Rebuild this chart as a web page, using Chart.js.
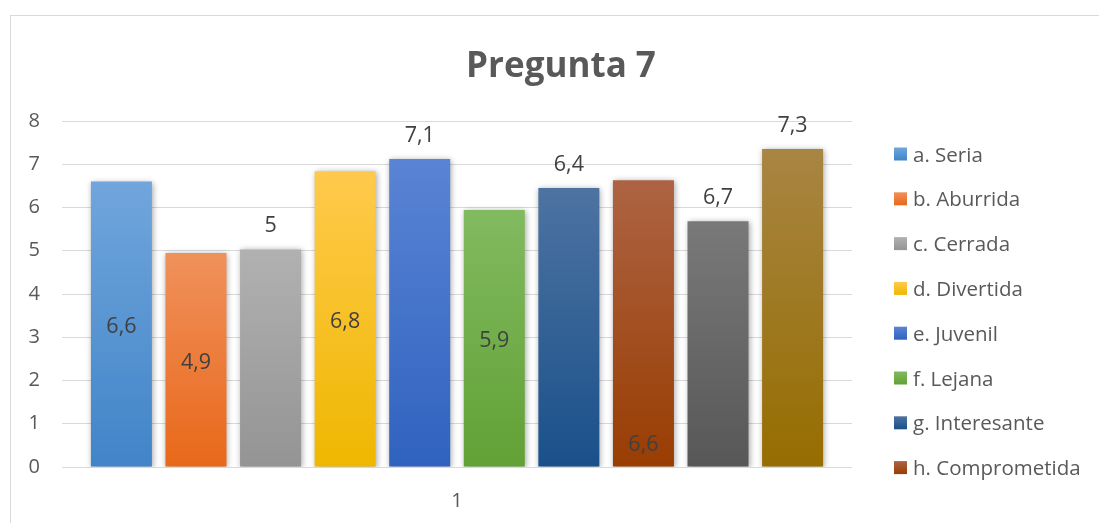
<!DOCTYPE html>
<html><head><meta charset="utf-8">
<script src="https://cdn.jsdelivr.net/npm/chart.js@4"></script>
<style>
html,body{margin:0;padding:0;background:#fff;overflow:hidden;width:1099px;height:523px}
#frame{position:absolute;left:10px;top:15px;width:1200px;height:600px;border:1px solid #d9d9d9;box-sizing:border-box}
#wrap{position:absolute;left:0;top:0;width:1099px;height:523px}
</style></head><body>
<div id="frame"></div>
<div id="wrap"><canvas id="c" width="1099" height="523"></canvas></div>
<script>
const chartTitle = 'Pregunta 7';
const categories = ['1'];
const seriesNames = ['a. Seria','b. Aburrida','c. Cerrada','d. Divertida','e. Juvenil','f. Lejana','g. Interesante','h. Comprometida','i. Moderna','j. Cercana'];
const seriesValues = [6.6, 4.95, 5.03, 6.84, 7.12, 5.94, 6.45, 6.63, 5.68, 7.35];
const valueLabels = ['6,6','4,9','5','6,8','7,1','5,9','6,4','6,6','6,7','7,3'];
const yTicks = [0,1,2,3,4,5,6,7,8];
const topColors = ['#70a6dc','#f0915c','#b1b1b1','#ffca4c','#5a84d5','#82ba60','#4d73a1','#ad6343','#797979','#a88543'];
const bottomColors = ['#4184c8','#e8681a','#949494','#efb700','#2f62bf','#61a135','#1a508a','#993d02','#575757','#966d00'];
const labelPlacement = ['center','center','above','center','above','center','above','base','above','above'];
const legendCount = 8;

function barGradient(i){
  return (ctx)=>{
    const ch = ctx.chart;
    if(!ch.chartArea) return bottomColors[i];
    const ys = ch.scales.y;
    const v = seriesValues[i];
    const t = ys.getPixelForValue(v), b = ys.getPixelForValue(0);
    const g = ch.ctx.createLinearGradient(0,t,0,b);
    g.addColorStop(0, topColors[i]);
    g.addColorStop(1, bottomColors[i]);
    return g;
  };
}

const datasets = seriesNames.map((n,i)=>({
  label:n,
  data:[seriesValues[i]],
  backgroundColor: barGradient(i),
  borderWidth:0
}));

const FONT = 'Open Sans';

const decor = {
  id:'decor',
  beforeDatasetsDraw(chart){
    const c = chart.ctx;
    c.save();
    c.shadowColor = 'rgba(0,0,0,0.35)';
    c.shadowBlur = 6;
    c.shadowOffsetX = 1;
    c.shadowOffsetY = 1;
  },
  afterDatasetsDraw(chart){
    const c = chart.ctx;
    c.restore();
    c.save();
    c.font = '21.5px "' + FONT + '"';
    c.fillStyle = '#404040';
    c.textAlign = 'center';
    c.textBaseline = 'alphabetic';
    chart.data.datasets.forEach((ds,i)=>{
      const el = chart.getDatasetMeta(i).data[0];
      if(!el) return;
      let y;
      const p = labelPlacement[i];
      if(p==='above') y = el.y - 17;
      else if(p==='base') y = el.base - 16;
      else y = (el.y + el.base)/2 + 9;
      c.fillText(valueLabels[i], el.x, y);
    });
    c.restore();
  },
  afterDraw(chart){
    const c = chart.ctx;
    c.save();
    c.font = 'bold 35px "' + FONT + '"';
    c.fillStyle = '#595959';
    c.textAlign = 'center';
    c.textBaseline = 'alphabetic';
    c.fillText(chartTitle, 561, 77);
    c.font = '20.5px "' + FONT + '"';
    c.textAlign = 'left';
    for(let i=0;i<legendCount;i++){
      const cy = 154 + i*44.8;
      const g = c.createLinearGradient(0,cy-6.5,0,cy+6.5);
      g.addColorStop(0, topColors[i]); g.addColorStop(1, bottomColors[i]);
      c.fillStyle = g;
      c.fillRect(894, cy-6.5, 13, 13);
      c.fillStyle = '#595959';
      c.fillText(chart.data.datasets[i].label, 913, cy+7.5);
    }
    c.restore();
  }
};

function build(){
  new Chart(document.getElementById('c'), {
    type:'bar',
    data:{labels:categories, datasets},
    plugins:[decor],
    options:{
      responsive:false,
      animation:false,
      layout:{padding:{left:0,right:247,top:121,bottom:0}},
      plugins:{legend:{display:false}, title:{display:false}, tooltip:{enabled:false}},
      datasets:{bar:{categoryPercentage:0.944, barPercentage:0.818}},
      scales:{
        x:{
          grid:{display:false, drawTicks:false},
          border:{display:false},
          ticks:{color:'#595959', font:{family:FONT,size:20}, padding:22},
          afterFit:(s)=>{s.height=56;}
        },
        y:{
          min:0, max:8,
          afterBuildTicks:(s)=>{s.ticks = yTicks.map(v=>({value:v}));},
          ticks:{color:'#595959', font:{family:FONT,size:20}, padding:22},
          grid:{color:'#d9d9d9', lineWidth:1, drawTicks:false},
          border:{display:false},
          afterFit:(s)=>{s.width=62;}
        }
      }
    }
  });
}
if(document.fonts && document.fonts.load){
  Promise.all([document.fonts.load('19px "Open Sans"'),document.fonts.load('bold 35px "Open Sans"')]).then(build, build);
} else build();
</script>
</body></html>
